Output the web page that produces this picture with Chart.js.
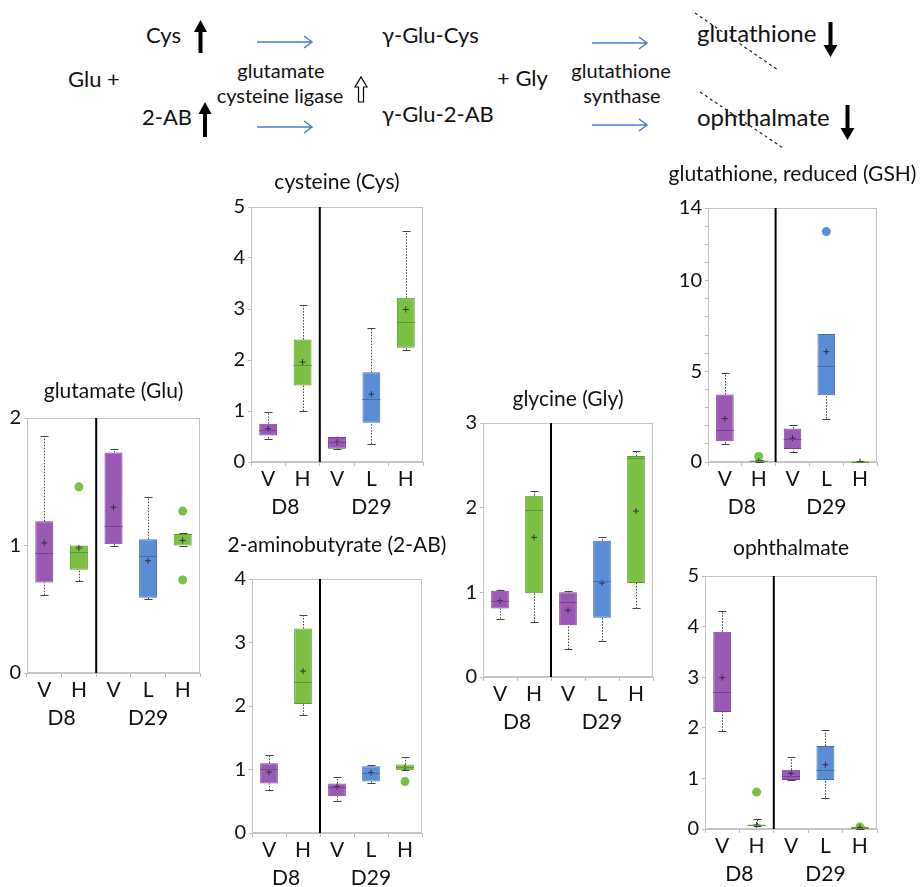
<!DOCTYPE html>
<html>
<head>
<meta charset="utf-8">
<script src="https://cdn.jsdelivr.net/npm/chart.js@4.4.0/dist/chart.umd.min.js"></script>
<style>
  body { margin: 0; width: 921px; height: 887px; overflow: hidden; background: #fff; position: relative; font-family: Lato, "Open Sans", sans-serif; }
  .t { position: absolute; white-space: nowrap; color: #111; line-height: 1; }
  .c { transform: translateX(-50%); }
  canvas { position: absolute; }
</style>
</head>
<body>
<!-- pathway sketch on top -->
<div class="t" style="left:146px;top:24px;font-size:22px">Cys</div>
<div class="t" style="left:68px;top:68px;font-size:22px">Glu +</div>
<div class="t" style="left:142px;top:106px;font-size:22px">2-AB</div>
<div class="t c" style="left:281px;top:60px;font-size:20px">glutamate</div>
<div class="t c" style="left:280px;top:85px;font-size:20px">cysteine ligase</div>
<div class="t" style="left:382px;top:24px;font-size:22px">γ-Glu-Cys</div>
<div class="t" style="left:382px;top:103px;font-size:22px">γ-Glu-2-AB</div>
<div class="t" style="left:497px;top:67px;font-size:22px">+ Gly</div>
<div class="t c" style="left:621px;top:60px;font-size:20px">glutathione</div>
<div class="t c" style="left:622px;top:85px;font-size:20px">synthase</div>
<div class="t" style="left:697px;top:21px;font-size:24px">glutathione</div>
<div class="t" style="left:697px;top:105px;font-size:24px">ophthalmate</div>
<svg style="position:absolute;left:0;top:0" width="921" height="160">
  <g fill="#000">
    <polygon points="200.5,20 207,32 202.5,32 202.5,53 198.5,53 198.5,32 194,32"/>
    <polygon points="205,102 211.5,114 207,114 207,137 203,137 203,114 198.5,114"/>
    <polygon points="830.5,57 837.5,45 832.5,45 832.5,22 828.5,22 828.5,45 823.5,45"/>
    <polygon points="847.5,140 854.5,128 849.5,128 849.5,105 845.5,105 845.5,128 840.5,128"/>
  </g>
  <polygon points="361,77 367,87 363.5,87 363.5,102 358.5,102 358.5,87 355,87" fill="#fff" stroke="#000" stroke-width="1.2"/>
  <g stroke="#4a7fd0" stroke-width="1.5" fill="none">
    <path d="M257 42 H312 M304 36 L312 42 L304 48"/>
    <path d="M257 127 H312 M304 121 L312 127 L304 133"/>
    <path d="M592 43 H647 M639 37 L647 43 L639 49"/>
    <path d="M592 125 H647 M639 119 L647 125 L639 131"/>
  </g>
  <g stroke="#222" stroke-width="1.2" stroke-dasharray="3,3">
    <line x1="695" y1="13" x2="778" y2="70"/>
    <line x1="700" y1="92" x2="783" y2="148"/>
  </g>
</svg>

<script>
// --- Data ---
const groups = ['V', 'H', 'V', 'L', 'H'];
const days = ['D8', 'D29'];

// glutamate (Glu)
const gluMin  = [0.61, 0.72, 1.00, 0.58, 1.00];
const gluQ1   = [0.71, 0.81, 1.01, 0.59, 1.00];
const gluMed  = [0.94, 0.95, 1.15, 0.92, 1.09];
const gluQ3   = [1.19, 1.00, 1.73, 1.05, 1.09];
const gluMax  = [1.86, 1.00, 1.76, 1.38, 1.10];
const gluMean = [1.02, 0.98, 1.30, 0.88, 1.04];
const gluOut  = [[], [1.46], [], [], [1.27, 0.73]];

// cysteine (Cys)
const cysMin  = [0.46, 1.00, 0.25, 0.36, 2.20];
const cysQ1   = [0.52, 1.50, 0.26, 0.77, 2.24];
const cysMed  = [0.63, 1.90, 0.40, 1.23, 2.75];
const cysQ3   = [0.75, 2.40, 0.49, 1.76, 3.22];
const cysMax  = [0.98, 3.07, 0.50, 2.63, 4.53];
const cysMean = [0.65, 1.96, 0.39, 1.33, 2.99];
const cysOut  = [[], [], [], [], []];

// 2-aminobutyrate (2-AB)
const abMin  = [0.67, 1.86, 0.51, 0.79, 0.99];
const abQ1   = [0.78, 2.03, 0.58, 0.81, 0.99];
const abMed  = [1.01, 2.38, 0.72, 0.95, 1.04];
const abQ3   = [1.10, 3.22, 0.78, 1.05, 1.08];
const abMax  = [1.23, 3.43, 0.88, 1.07, 1.20];
const abMean = [0.96, 2.55, 0.73, 0.95, 1.03];
const abOut  = [[], [], [], [], [0.81]];

// glycine (Gly)
const glyMin  = [0.69, 0.65, 0.33, 0.43, 0.81];
const glyQ1   = [0.81, 0.99, 0.61, 0.70, 1.11];
const glyMed  = [0.90, 1.97, 0.89, 1.13, 2.59];
const glyQ3   = [1.02, 2.14, 1.00, 1.61, 2.61];
const glyMax  = [1.03, 2.20, 1.02, 1.65, 2.67];
const glyMean = [0.90, 1.65, 0.79, 1.11, 1.96];
const glyOut  = [[], [], [], [], []];

// glutathione, reduced (GSH)
const gshMin  = [1.01, 0.00, 0.53, 2.39, 0.00];
const gshQ1   = [1.14, 0.02, 0.72, 3.68, 0.01];
const gshMed  = [1.75, 0.04, 1.29, 5.30, 0.02];
const gshQ3   = [3.72, 0.08, 1.84, 7.05, 0.04];
const gshMax  = [4.88, 0.10, 2.03, 7.05, 0.05];
const gshMean = [2.39, 0.05, 1.31, 6.08, 0.03];
const gshOut  = [[], [0.31], [], [12.7], []];

// ophthalmate
const ophMin  = [1.94, 0.05, 0.96, 0.62, 0.00];
const ophQ1   = [2.31, 0.06, 0.97, 0.97, 0.01];
const ophMed  = [2.70, 0.07, 1.05, 1.17, 0.02];
const ophQ3   = [3.90, 0.09, 1.17, 1.64, 0.04];
const ophMax  = [4.31, 0.20, 1.42, 1.96, 0.05];
const ophMean = [2.99, 0.08, 1.10, 1.27, 0.03];
const ophOut  = [[], [0.73], [], [], [0.04]];

// --- Styles ---
const FONT = 'Lato, "Open Sans", sans-serif';
const fills   = ['#9b59b6', '#7ac143', '#9b59b6', '#5b8dd6', '#7ac143'];
const borders = ['#7a3f96', '#5c9a30', '#7a3f96', '#3f6fb5', '#5c9a30'];
const AXIS_W = 42, PAD_TOP = 48, PAD_RIGHT = 48, X_H = 60;

// draws frame, whiskers, medians, divider, title and day labels
const boxDecor = {
  id: 'boxDecor',
  beforeDatasetsDraw(chart) {
    const { ctx, chartArea: a, scales: { x, y } } = chart;
    const s = chart.options.plugins.boxDecor;
    ctx.save();
    ctx.strokeStyle = '#c4c4c4';
    ctx.lineWidth = 1;
    ctx.strokeRect(a.left + 0.5, a.top + 0.5, a.width - 1, a.height - 1);
    ctx.strokeStyle = '#444';
    s.min.forEach((v, i) => {
      const px = Math.round(x.getPixelForValue(i)) + 0.5;
      ctx.setLineDash([1.5, 1.5]);
      ctx.beginPath();
      ctx.moveTo(px, y.getPixelForValue(v));
      ctx.lineTo(px, y.getPixelForValue(s.q1[i]));
      ctx.moveTo(px, y.getPixelForValue(s.q3[i]));
      ctx.lineTo(px, y.getPixelForValue(s.max[i]));
      ctx.stroke();
      ctx.setLineDash([]);
      ctx.beginPath();
      [v, s.max[i]].forEach(w => {
        const py = Math.round(y.getPixelForValue(w)) + 0.5;
        ctx.moveTo(px - 4, py);
        ctx.lineTo(px + 4, py);
      });
      ctx.stroke();
    });
    ctx.restore();
  },
  afterDatasetsDraw(chart) {
    const { ctx, chartArea: a, scales: { x, y } } = chart;
    const s = chart.options.plugins.boxDecor;
    ctx.save();
    // medians
    const half = (x.getPixelForValue(1) - x.getPixelForValue(0)) * 0.26;
    s.med.forEach((v, i) => {
      const px = x.getPixelForValue(i);
      const py = Math.round(y.getPixelForValue(v)) + 0.5;
      ctx.strokeStyle = borders[i];
      ctx.lineWidth = 1;
      ctx.beginPath();
      ctx.moveTo(px - half, py);
      ctx.lineTo(px + half, py);
      ctx.stroke();
    });
    // D8 | D29 divider
    const dx = (x.getPixelForValue(1) + x.getPixelForValue(2)) / 2;
    ctx.strokeStyle = '#000';
    ctx.lineWidth = 2;
    ctx.beginPath();
    ctx.moveTo(dx, a.top);
    ctx.lineTo(dx, a.bottom);
    ctx.stroke();
    // title
    ctx.fillStyle = '#111';
    ctx.textAlign = 'center';
    ctx.textBaseline = 'middle';
    ctx.font = '21px ' + FONT;
    ctx.fillText(s.title, (a.left + a.right) / 2, a.top - s.titleGap);
    // day labels
    ctx.font = '21px ' + FONT;
    ctx.fillText(days[0], (x.getPixelForValue(0) + x.getPixelForValue(1)) / 2, a.bottom + 45);
    ctx.fillText(days[1], x.getPixelForValue(3), a.bottom + 45);
    ctx.restore();
  }
};

function makeBoxChart(p) {
  const cv = document.createElement('canvas');
  const w = p.right - p.left + AXIS_W + PAD_RIGHT;
  const h = p.bottom - p.top + PAD_TOP + X_H;
  cv.width = w; cv.height = h;
  cv.style.left = (p.left - AXIS_W) + 'px';
  cv.style.top = (p.top - PAD_TOP) + 'px';
  cv.style.width = w + 'px'; cv.style.height = h + 'px';
  document.body.appendChild(cv);

  // one point dataset per outlier rank, aligned with the groups
  const nOut = Math.max(...p.out.map(l => l.length));
  const outSets = [];
  for (let k = 0; k < nOut; k++) {
    outSets.push({
      type: 'line', data: p.out.map(l => (l[k] === undefined ? null : l[k])), showLine: false, order: 2,
      pointRadius: 4.5, pointBorderWidth: 0, pointBackgroundColor: fills, pointBorderColor: fills
    });
  }

  new Chart(cv, {
    type: 'bar',
    data: {
      labels: groups,
      datasets: [
        {
          type: 'line', data: p.mean, showLine: false, order: 1,
          pointStyle: 'cross', pointRadius: 3, borderColor: '#333', borderWidth: 1
        },
        ...outSets,
        {
          type: 'bar', order: 3,
          data: p.q1.map((v, i) => [v, p.q3[i]]),
          backgroundColor: fills, borderColor: borders, borderWidth: 1, borderSkipped: false,
          barPercentage: 0.52, categoryPercentage: 1, grouped: false
        }
      ]
    },
    options: {
      responsive: false,
      animation: false,
      devicePixelRatio: 1,
      layout: { padding: { top: PAD_TOP, right: PAD_RIGHT, left: 0, bottom: 0 } },
      plugins: {
        legend: { display: false },
        tooltip: { enabled: false },
        boxDecor: {
          title: p.title, titleGap: p.titleGap,
          min: p.min, q1: p.q1, med: p.med, q3: p.q3, max: p.max
        }
      },
      scales: {
        x: {
          grid: { drawOnChartArea: false, tickLength: 4, color: '#bbb' },
          border: { color: '#c4c4c4' },
          ticks: { font: { size: 21, family: FONT }, color: '#111', padding: 1, maxRotation: 0 },
          afterFit(s) { s.height = X_H; }
        },
        y: {
          min: 0, max: p.yMax,
          grid: { drawOnChartArea: false, tickLength: 3, color: '#bbb' },
          border: { color: '#c4c4c4' },
          ticks: {
            stepSize: 1, font: { size: 20, family: FONT }, color: '#111', padding: 3,
            autoSkip: false,
            callback: v => (p.yLabels.includes(v) ? v : '')
          },
          afterFit(s) { s.width = AXIS_W; }
        }
      }
    },
    plugins: [boxDecor]
  });
}

makeBoxChart({ title: 'glutamate (Glu)', titleGap: 27, left: 27, top: 418, right: 200, bottom: 673,
  yMax: 2, yLabels: [0, 1, 2], min: gluMin, q1: gluQ1, med: gluMed, q3: gluQ3, max: gluMax, mean: gluMean, out: gluOut });
makeBoxChart({ title: 'cysteine (Cys)', titleGap: 25, left: 251, top: 207, right: 423, bottom: 462,
  yMax: 5, yLabels: [0, 1, 2, 3, 4, 5], min: cysMin, q1: cysQ1, med: cysMed, q3: cysQ3, max: cysMax, mean: cysMean, out: cysOut });
makeBoxChart({ title: '2-aminobutyrate (2-AB)', titleGap: 34, left: 252, top: 579, right: 422, bottom: 833,
  yMax: 4, yLabels: [0, 1, 2, 3, 4], min: abMin, q1: abQ1, med: abMed, q3: abQ3, max: abMax, mean: abMean, out: abOut });
makeBoxChart({ title: 'glycine (Gly)', titleGap: 24, left: 483, top: 423, right: 653, bottom: 677,
  yMax: 3, yLabels: [0, 1, 2, 3], min: glyMin, q1: glyQ1, med: glyMed, q3: glyQ3, max: glyMax, mean: glyMean, out: glyOut });
makeBoxChart({ title: 'glutathione, reduced (GSH)', titleGap: 34, left: 708, top: 208, right: 877, bottom: 462,
  yMax: 14, yLabels: [0, 5, 10, 14], min: gshMin, q1: gshQ1, med: gshMed, q3: gshQ3, max: gshMax, mean: gshMean, out: gshOut });
makeBoxChart({ title: 'ophthalmate', titleGap: 28, left: 705, top: 576, right: 877, bottom: 829,
  yMax: 5, yLabels: [0, 1, 2, 3, 4, 5], min: ophMin, q1: ophQ1, med: ophMed, q3: ophQ3, max: ophMax, mean: ophMean, out: ophOut });
</script>
</body>
</html>
